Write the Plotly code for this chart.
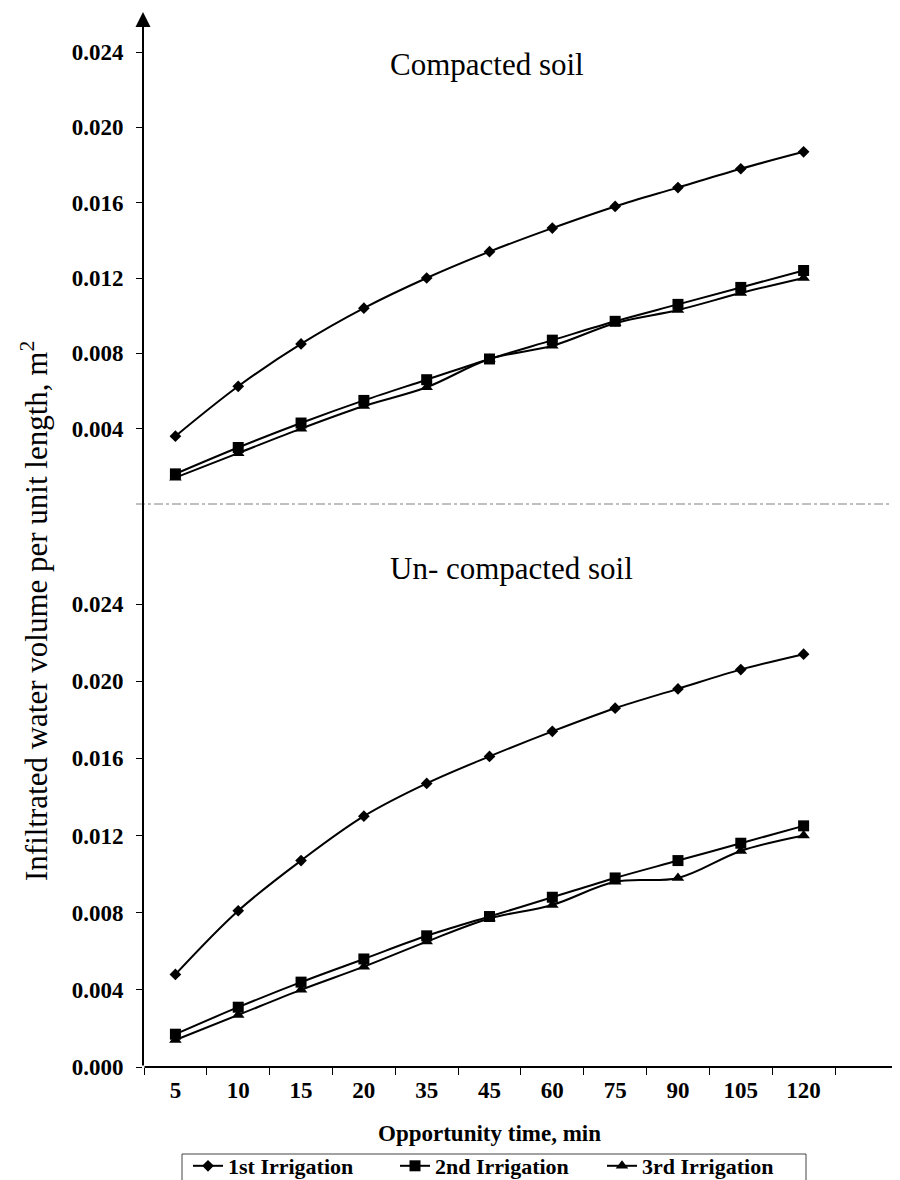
import plotly.graph_objects as go

# ---------------- data ----------------
times = ["5", "10", "15", "20", "35", "45", "60", "75", "90", "105", "120"]

compacted_1st = [0.0036, 0.00625, 0.0085, 0.0104, 0.0120, 0.0134, 0.01465, 0.0158, 0.0168, 0.0178, 0.0187]
compacted_2nd = [0.0016, 0.0030, 0.0043, 0.0055, 0.0066, 0.0077, 0.0087, 0.0097, 0.0106, 0.0115, 0.0124]
compacted_3rd = [0.0014, 0.0027, 0.0040, 0.0052, 0.0062, 0.0077, 0.0084, 0.0096, 0.0103, 0.0112, 0.0120]

uncompacted_1st = [0.0048, 0.0081, 0.0107, 0.0130, 0.0147, 0.0161, 0.0174, 0.0186, 0.0196, 0.0206, 0.0214]
uncompacted_2nd = [0.0017, 0.0031, 0.0044, 0.0056, 0.0068, 0.0078, 0.0088, 0.0098, 0.0107, 0.0116, 0.0125]
uncompacted_3rd = [0.0014, 0.0027, 0.0040, 0.0052, 0.0065, 0.0077, 0.0084, 0.0096, 0.0098, 0.0112, 0.0120]

series_names = ["1st Irrigation", "2nd Irrigation", "3rd Irrigation"]
lower_ticks = [0.000, 0.004, 0.008, 0.012, 0.016, 0.020, 0.024]
upper_ticks = [0.004, 0.008, 0.012, 0.016, 0.020, 0.024]

# ---------------- layout helpers ----------------
W, H = 900, 1180
FONT = "Liberation Serif, Times New Roman, serif"


def px(x):
    return x / W


def py(y):
    return 1 - y / H


markers = [
    dict(symbol="diamond", size=9),
    dict(symbol="square", size=11),
    dict(symbol="triangle-up", size=11),
]

fig = go.Figure()

upper = [compacted_1st, compacted_2nd, compacted_3rd]
lower = [uncompacted_1st, uncompacted_2nd, uncompacted_3rd]

for i, (name, vals) in enumerate(zip(series_names, lower)):
    fig.add_trace(go.Scatter(
        x=times, y=vals, name=name, mode="lines+markers",
        line=dict(color="black", width=2, shape="spline", smoothing=1),
        marker=dict(color="black", **markers[i]),
        xaxis="x", yaxis="y", showlegend=True,
    ))

for i, (name, vals) in enumerate(zip(series_names, upper)):
    fig.add_trace(go.Scatter(
        x=times, y=vals, name=name, mode="lines+markers",
        line=dict(color="black", width=2, shape="spline", smoothing=1),
        marker=dict(color="black", **markers[i]),
        xaxis="x2", yaxis="y2", showlegend=False,
    ))

# pixel geometry (from the reference)
x_left = 135
cat_w = 62.82
first_boundary = 136
x0_val = -0.5 - (first_boundary - x_left) / cat_w
x1_val = -0.5 + (W - first_boundary) / cat_w

y_zero_low, y_024_low = 1059, 596
y_zero_up, y_024_up = 496, 44
y_top = 4

low_top_val = 0.024 * (y_zero_low - y_zero_up) / (y_zero_low - y_024_low)
up_top_val = 0.024 * (y_zero_up - y_top) / (y_zero_up - y_024_up)

tickfont = dict(family=FONT, size=23, color="black", weight="bold")

fig.update_layout(
    width=W, height=H,
    margin=dict(l=0, r=0, t=0, b=0, autoexpand=False),
    paper_bgcolor="white", plot_bgcolor="rgba(0,0,0,0)",
    font=dict(family=FONT, color="black"),
    xaxis=dict(
        type="category", categoryorder="array", categoryarray=times,
        domain=[px(x_left), 1], range=[x0_val, x1_val],
        anchor="y", tickson="boundaries", ticks="outside", ticklen=7,
        tickwidth=1, tickcolor="black", showline=False, showgrid=False,
        zeroline=False, tickfont=tickfont, ticklabelstandoff=7,
    ),
    xaxis2=dict(
        type="category", categoryorder="array", categoryarray=times,
        domain=[px(x_left), 1], range=[x0_val, x1_val], matches="x",
        anchor="y2", visible=False,
    ),
    yaxis=dict(
        domain=[py(y_zero_low), py(y_zero_up)], range=[0, low_top_val],
        anchor="x", tickvals=lower_ticks, tickformat=".3f", ticks="outside",
        ticklen=6, tickwidth=1, tickcolor="black", showline=False,
        showgrid=False, zeroline=False, tickfont=tickfont, ticklabelstandoff=8,
    ),
    yaxis2=dict(
        domain=[py(y_zero_up), py(y_top)], range=[0, up_top_val],
        anchor="x2", tickvals=upper_ticks, tickformat=".3f", ticks="outside",
        ticklen=6, tickwidth=1, tickcolor="black", showline=False,
        showgrid=False, zeroline=False, tickfont=tickfont, ticklabelstandoff=8,
    ),
    legend=dict(
        orientation="h", x=px(180), xanchor="left", y=py(1158), yanchor="middle",
        borderwidth=0, bgcolor="rgba(0,0,0,0)",
        font=dict(family=FONT, size=22, color="black", weight="bold"),
        entrywidth=162, entrywidthmode="pixels", tracegroupgap=0,
    ),
    showlegend=True,
)

# legend frame (bottom edge falls outside the picture, as in the reference)
fig.add_shape(type="rect", xref="paper", yref="paper",
              x0=px(174), x1=px(798), y0=py(1190), y1=py(1146),
              line=dict(color="#444", width=1), fillcolor="rgba(0,0,0,0)",
              layer="below")

# separator dash-dot line
fig.add_shape(type="line", xref="paper", yref="paper",
              x0=px(128), x1=1, y0=py(y_zero_up), y1=py(y_zero_up),
              line=dict(color="#808080", width=1, dash="dashdot"))

# axis arrows
fig.add_annotation(xref="paper", yref="paper", x=px(x_left), y=py(y_top),
                   ax=0, ay=y_zero_low - y_top, axref="pixel", ayref="pixel",
                   text="", showarrow=True, arrowhead=2, arrowsize=1.5,
                   arrowwidth=2, arrowcolor="black")
fig.add_annotation(xref="paper", yref="paper", x=px(899), y=py(y_zero_low),
                   ax=-(899 - x_left), ay=0, axref="pixel", ayref="pixel",
                   text="", showarrow=True, arrowhead=2, arrowsize=1.5,
                   arrowwidth=2, arrowcolor="black")

# panel titles
fig.add_annotation(xref="paper", yref="paper", x=px(380), y=py(57),
                   xanchor="left", yanchor="middle", showarrow=False,
                   text="Compacted soil",
                   font=dict(family=FONT, size=31, color="black"))
fig.add_annotation(xref="paper", yref="paper", x=px(380), y=py(560),
                   xanchor="left", yanchor="middle", showarrow=False,
                   text="Un- compacted soil",
                   font=dict(family=FONT, size=31, color="black"))

# axis titles
fig.add_annotation(xref="paper", yref="paper", x=px(26), y=py(603),
                   xanchor="center", yanchor="middle", showarrow=False,
                   textangle=-90,
                   text="Infiltrated water volume per unit length, m<sup>2</sup>",
                   font=dict(family=FONT, size=31, color="black"))
fig.add_annotation(xref="paper", yref="paper", x=px(481), y=py(1125),
                   xanchor="center", yanchor="middle", showarrow=False,
                   text="<b>Opportunity time, min</b>",
                   font=dict(family=FONT, size=23, color="black"))

fig.write_html("out.html")
